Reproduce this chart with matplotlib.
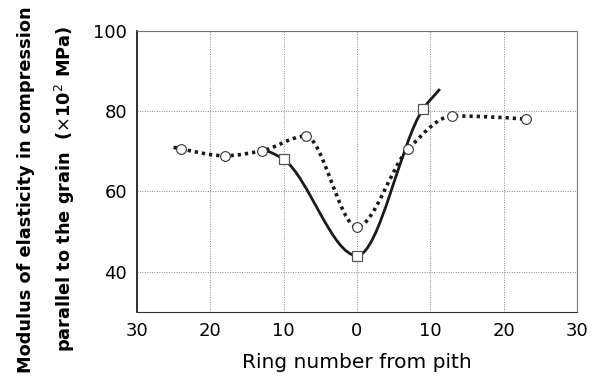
import numpy as np
import matplotlib.pyplot as plt
from matplotlib.path import Path
from matplotlib.patches import PathPatch

# ring number from pith (negative = one side, positive = other side)
ring_sq = [-13, -10, 0, 9, 11.3]
mod_sq = [70.8, 68.0, 44.0, 80.5, 85.5]
mark_sq = [False, True, True, True, False]

ring_ci = [-25, -24, -18, -13, -7, 0, 7, 13, 23, 24]
mod_ci = [71.0, 70.6, 68.9, 70.1, 73.8, 51.2, 70.6, 78.8, 78.0, 77.7]
mark_ci = [False, True, True, True, True, True, True, True, True, False]

xticks = [-30, -20, -10, 0, 10, 20, 30]
xtick_labels = ['30', '20', '10', '0', '10', '20', '30']
yticks = [40, 60, 80, 100]


def smooth_path(xs, ys):
    # monotone cubic (no overshoot) written as Bezier segments
    x = np.asarray(xs, float)
    y = np.asarray(ys, float)
    h = np.diff(x)
    d = np.diff(y) / h
    n = len(x)
    m = np.zeros(n)
    m[0], m[-1] = d[0], d[-1]
    for i in range(1, n - 1):
        if d[i - 1] * d[i] > 0:
            w1 = 2 * h[i] + h[i - 1]
            w2 = h[i] + 2 * h[i - 1]
            m[i] = (w1 + w2) / (w1 / d[i - 1] + w2 / d[i])
    verts = [(x[0], y[0])]
    codes = [Path.MOVETO]
    for i in range(n - 1):
        verts += [(x[i] + h[i] / 3, y[i] + m[i] * h[i] / 3),
                  (x[i + 1] - h[i] / 3, y[i + 1] - m[i + 1] * h[i] / 3),
                  (x[i + 1], y[i + 1])]
        codes += [Path.CURVE4] * 3
    return Path(verts, codes)


fig = plt.figure(figsize=(6.03, 3.86), dpi=100)
ax = fig.add_axes([0.227, 0.192, 0.730, 0.728])

ax.add_patch(PathPatch(smooth_path(ring_sq, mod_sq), fill=False,
                       edgecolor='#1a1a1a', lw=2.0, zorder=3))
ax.add_patch(PathPatch(smooth_path(ring_ci, mod_ci), fill=False,
                       edgecolor='#1a1a1a', lw=2.6, linestyle=(0, (0.9, 1.1)),
                       zorder=3))

xs = [x for x, m in zip(ring_sq, mark_sq) if m]
ys = [y for y, m in zip(mod_sq, mark_sq) if m]
ax.plot(xs, ys, linestyle='none', marker='s', ms=7, mfc='white',
        mec='#555555', mew=0.9, zorder=4)
xc = [x for x, m in zip(ring_ci, mark_ci) if m]
yc = [y for y, m in zip(mod_ci, mark_ci) if m]
ax.plot(xc, yc, linestyle='none', marker='o', ms=7, mfc='white',
        mec='#333333', mew=0.8, zorder=5)

ax.set_xlim(-30, 30)
ax.set_ylim(30, 100)
ax.set_xticks(xticks)
ax.set_xticklabels(xtick_labels)
ax.set_yticks(yticks)
ax.tick_params(length=0, labelsize=13, pad=7)
ax.grid(True, linestyle=(0, (1, 1.5)), color='#888888', lw=0.7)

for s in ['top', 'right']:
    ax.spines[s].set_color('#777777')
    ax.spines[s].set_linewidth(0.8)
ax.spines['bottom'].set_color('#333333')
ax.spines['left'].set_color('#111111')
ax.spines['left'].set_linewidth(1.2)

ax.set_xlabel('Ring number from pith', fontsize=14.5, labelpad=10)
fig.text(0.043, 0.508, 'Modulus of elasticity in compression',
         rotation=90, ha='center', va='center', fontsize=12.8,
         fontweight='bold')
fig.text(0.107, 0.51, 'parallel to the grain  ($\\times$10$^2$ MPa)',
         rotation=90, ha='center', va='center', fontsize=12.8,
         fontweight='bold')

fig.savefig('out.png', dpi=100)
